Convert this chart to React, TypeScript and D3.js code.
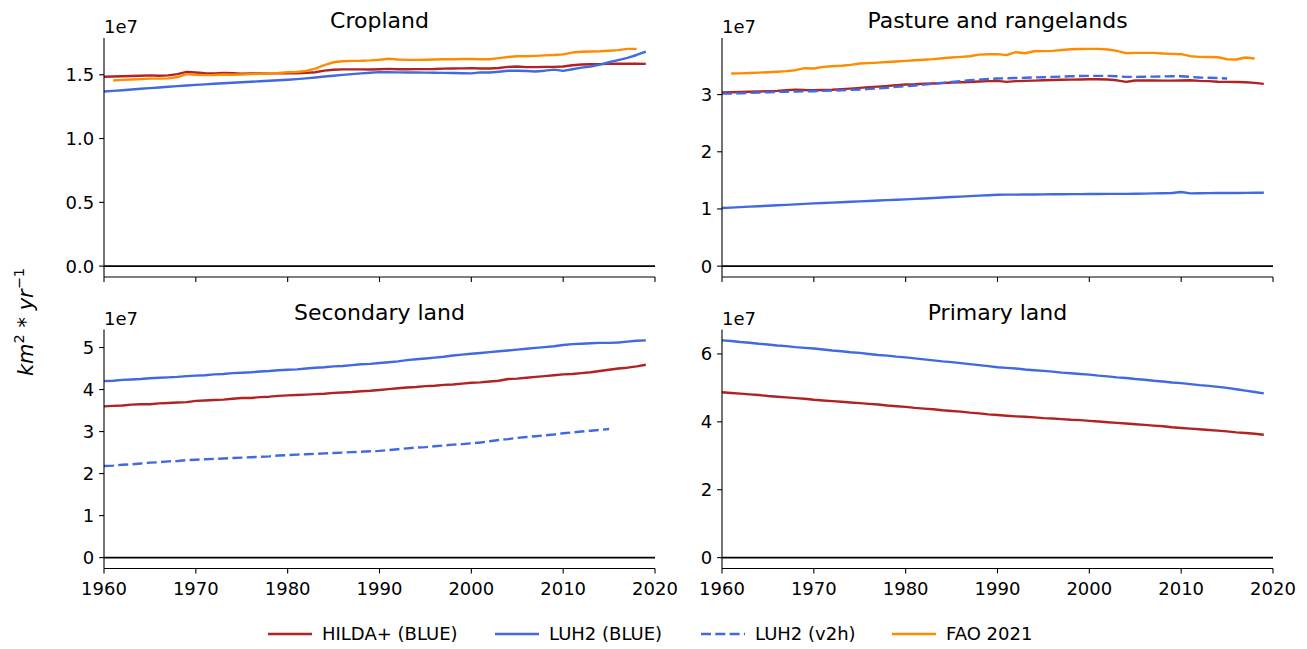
import React from "react";
import * as d3 from "d3";

// ---------- DATA (values in units of 1e7 km² yr⁻¹) ----------
const YEARS = d3.range(1960, 2020); // 1960..2019
const YEARS_V2H = d3.range(1960, 2016); // 1960..2015
const YEARS_FAO = d3.range(1961, 2019); // 1961..2018

const X_TICKS = [1960, 1970, 1980, 1990, 2000, 2010, 2020];

// Cropland
const cropHilda = [
  1.484, 1.486, 1.488, 1.49, 1.492, 1.495, 1.492, 1.495, 1.505, 1.522,
  1.518, 1.512, 1.51, 1.515, 1.512, 1.508, 1.51, 1.51, 1.511, 1.512,
  1.513, 1.512, 1.515, 1.52, 1.532, 1.539, 1.542, 1.542, 1.542, 1.541,
  1.543, 1.546, 1.543, 1.543, 1.544, 1.544, 1.545, 1.548, 1.549, 1.55,
  1.552, 1.549, 1.549, 1.553, 1.562, 1.565, 1.56, 1.56, 1.562, 1.562,
  1.565, 1.575, 1.58, 1.582, 1.583, 1.585, 1.586, 1.586, 1.586, 1.585,
];
const cropLuh2 = [
  1.369, 1.374, 1.379, 1.384, 1.39, 1.395, 1.4, 1.406, 1.411, 1.416,
  1.421, 1.425, 1.429, 1.433, 1.437, 1.441, 1.445, 1.449, 1.453, 1.457,
  1.461, 1.466, 1.472, 1.479, 1.486, 1.492, 1.499, 1.505, 1.511, 1.516,
  1.521, 1.52, 1.519, 1.518, 1.518, 1.517, 1.516, 1.515, 1.514, 1.512,
  1.511, 1.519, 1.518, 1.524, 1.531, 1.531, 1.53, 1.526, 1.532, 1.54,
  1.53, 1.543, 1.556, 1.565, 1.58, 1.598, 1.615, 1.632, 1.655, 1.681,
];
const cropFao = [
  1.455, 1.46, 1.463, 1.466, 1.47, 1.47, 1.472, 1.482, 1.505,
  1.5, 1.497, 1.498, 1.502, 1.5, 1.502, 1.505, 1.508, 1.512, 1.515,
  1.52, 1.522, 1.53, 1.548, 1.575, 1.598, 1.606, 1.609, 1.61, 1.613,
  1.618, 1.625, 1.62, 1.617, 1.617, 1.618, 1.62, 1.622, 1.622, 1.624,
  1.624, 1.622, 1.622, 1.63, 1.639, 1.645, 1.645, 1.648, 1.652, 1.655,
  1.66, 1.674, 1.68, 1.682, 1.684, 1.688, 1.693, 1.703, 1.703,
];

// Pasture and rangelands
const pastHilda = [
  3.036, 3.04, 3.045, 3.05, 3.055, 3.059, 3.065, 3.075, 3.088, 3.08,
  3.076, 3.08, 3.085, 3.095, 3.105, 3.117, 3.13, 3.14, 3.15, 3.165,
  3.176, 3.18, 3.19, 3.195, 3.2, 3.211, 3.215, 3.22, 3.228, 3.235,
  3.24, 3.222, 3.235, 3.24, 3.245, 3.252, 3.255, 3.26, 3.262, 3.265,
  3.269, 3.268, 3.263, 3.25, 3.222, 3.246, 3.248, 3.246, 3.244, 3.245,
  3.246, 3.25, 3.24, 3.235, 3.225, 3.222, 3.22, 3.217, 3.205, 3.187,
];
const pastLuh2 = [
  1.016, 1.024, 1.032, 1.04, 1.048, 1.056, 1.064, 1.072, 1.08, 1.089,
  1.097, 1.104, 1.111, 1.118, 1.125, 1.132, 1.139, 1.147, 1.154, 1.161,
  1.168, 1.176, 1.184, 1.192, 1.2, 1.208, 1.216, 1.225, 1.233, 1.241,
  1.249, 1.25, 1.251, 1.252, 1.254, 1.255, 1.256, 1.257, 1.259, 1.26,
  1.261, 1.262, 1.263, 1.263, 1.264, 1.267, 1.269, 1.272, 1.275, 1.278,
  1.296, 1.273, 1.275, 1.277, 1.278, 1.279, 1.28, 1.281, 1.283, 1.284,
];
const pastV2h = [
  3.018, 3.02, 3.025, 3.03, 3.036, 3.042, 3.046, 3.05, 3.054, 3.057,
  3.059, 3.065, 3.07, 3.075, 3.082, 3.088, 3.1, 3.11, 3.12, 3.135,
  3.147, 3.16, 3.175, 3.19, 3.205, 3.222, 3.235, 3.25, 3.262, 3.272,
  3.281, 3.285, 3.29, 3.295, 3.3, 3.304, 3.31, 3.315, 3.32, 3.325,
  3.327, 3.328, 3.327, 3.32, 3.31, 3.31, 3.312, 3.315, 3.318, 3.32,
  3.322, 3.31, 3.298, 3.295, 3.29, 3.281,
];
const pastFao = [
  3.368, 3.372, 3.378, 3.385, 3.392, 3.4, 3.41, 3.427, 3.462,
  3.456, 3.485, 3.495, 3.505, 3.52, 3.543, 3.55, 3.56, 3.57, 3.58,
  3.59, 3.6, 3.61, 3.62, 3.635, 3.649, 3.66, 3.67, 3.7, 3.705,
  3.707, 3.69, 3.742, 3.724, 3.759, 3.76, 3.765, 3.78, 3.794, 3.797,
  3.8, 3.8, 3.789, 3.765, 3.724, 3.73, 3.73, 3.73, 3.718, 3.712,
  3.707, 3.672, 3.66, 3.657, 3.654, 3.619, 3.614, 3.649, 3.631,
];

// Secondary land
const secHilda = [
  3.6, 3.61, 3.62, 3.64, 3.65, 3.65, 3.67, 3.68, 3.69, 3.7,
  3.73, 3.74, 3.75, 3.76, 3.78, 3.8, 3.8, 3.82, 3.83, 3.85,
  3.86, 3.87, 3.88, 3.89, 3.9, 3.92, 3.93, 3.94, 3.96, 3.97,
  3.99, 4.01, 4.03, 4.05, 4.06, 4.08, 4.09, 4.11, 4.12, 4.14,
  4.16, 4.17, 4.19, 4.21, 4.25, 4.26, 4.28, 4.3, 4.32, 4.34,
  4.36, 4.37, 4.39, 4.41, 4.44, 4.47, 4.5, 4.52, 4.55, 4.59,
];
const secLuh2 = [
  4.2, 4.21, 4.23, 4.24, 4.25, 4.27, 4.28, 4.29, 4.3, 4.32,
  4.33, 4.34, 4.36, 4.37, 4.39, 4.4, 4.41, 4.43, 4.44, 4.46,
  4.47, 4.48, 4.5, 4.52, 4.53, 4.55, 4.56, 4.58, 4.6, 4.61,
  4.63, 4.65, 4.67, 4.7, 4.72, 4.74, 4.76, 4.78, 4.81, 4.83,
  4.85, 4.87, 4.89, 4.91, 4.93, 4.95, 4.97, 4.99, 5.01, 5.03,
  5.06, 5.08, 5.09, 5.1, 5.11, 5.11, 5.12, 5.14, 5.16, 5.17,
];
const secV2h = [
  2.18, 2.19, 2.21, 2.22, 2.24, 2.26, 2.27, 2.29, 2.3, 2.32,
  2.33, 2.34, 2.35, 2.36, 2.37, 2.38, 2.39, 2.4, 2.41, 2.43,
  2.44, 2.45, 2.46, 2.47, 2.48, 2.49, 2.5, 2.51, 2.52, 2.53,
  2.54, 2.56, 2.58, 2.6, 2.62, 2.63, 2.65, 2.67, 2.69, 2.7,
  2.72, 2.74, 2.77, 2.8, 2.82, 2.85, 2.87, 2.89, 2.91, 2.93,
  2.96, 2.98, 3.0, 3.02, 3.04, 3.06,
];

// Primary land
const primHilda = [
  4.87, 4.85, 4.83, 4.81, 4.79, 4.76, 4.74, 4.72, 4.7, 4.68,
  4.65, 4.63, 4.61, 4.59, 4.57, 4.55, 4.53, 4.51, 4.48, 4.46,
  4.44, 4.41, 4.39, 4.37, 4.34, 4.32, 4.3, 4.27, 4.25, 4.22,
  4.2, 4.18, 4.16, 4.15, 4.13, 4.11, 4.1, 4.08, 4.06, 4.05,
  4.03, 4.01, 3.99, 3.97, 3.95, 3.93, 3.91, 3.89, 3.87, 3.84,
  3.82, 3.8, 3.78, 3.76, 3.74, 3.72, 3.69, 3.67, 3.65, 3.62,
];
const primLuh2 = [
  6.4, 6.38, 6.35, 6.33, 6.3, 6.28, 6.25, 6.23, 6.2, 6.18,
  6.16, 6.13, 6.1, 6.08, 6.05, 6.03, 6.0, 5.97, 5.95, 5.92,
  5.9, 5.87, 5.84, 5.81, 5.78, 5.76, 5.73, 5.7, 5.67, 5.64,
  5.61, 5.59, 5.57, 5.54, 5.52, 5.5, 5.48, 5.45, 5.43, 5.41,
  5.39, 5.36, 5.34, 5.31, 5.29, 5.26, 5.24, 5.21, 5.19, 5.16,
  5.14, 5.11, 5.08, 5.06, 5.03, 5.0, 4.96, 4.92, 4.88, 4.84,
];

const PANEL_TITLES = ["Cropland", "Pasture and rangelands", "Secondary land", "Primary land"];
const Y_TICKS = [
  [0, 0.5, 1.0, 1.5],
  [0, 1, 2, 3],
  [0, 1, 2, 3, 4, 5],
  [0, 2, 4, 6],
];
const Y_TICK_FORMATS = [".1f", "d", "d", "d"];

const LEGEND_LABELS = ["HILDA+ (BLUE)", "LUH2 (BLUE)", "LUH2 (v2h)", "FAO 2021"];

// ---------- STYLE ----------
const COLORS = {
  hilda: "#b22222",
  luh2: "#4169e1",
  v2h: "#4169e1",
  fao: "#ff8c00",
};
const FONT = "DejaVu Sans, Verdana, sans-serif";

type Series = { key: keyof typeof COLORS; years: number[]; values: number[]; dashed?: boolean };

const PANEL_SERIES: Series[][] = [
  [
    { key: "hilda", years: YEARS, values: cropHilda },
    { key: "luh2", years: YEARS, values: cropLuh2 },
    { key: "fao", years: YEARS_FAO, values: cropFao },
  ],
  [
    { key: "hilda", years: YEARS, values: pastHilda },
    { key: "luh2", years: YEARS, values: pastLuh2 },
    { key: "v2h", years: YEARS_V2H, values: pastV2h, dashed: true },
    { key: "fao", years: YEARS_FAO, values: pastFao },
  ],
  [
    { key: "hilda", years: YEARS, values: secHilda },
    { key: "luh2", years: YEARS, values: secLuh2 },
    { key: "v2h", years: YEARS_V2H, values: secV2h, dashed: true },
  ],
  [
    { key: "hilda", years: YEARS, values: primHilda },
    { key: "luh2", years: YEARS, values: primLuh2 },
  ],
];

const PANEL_BOXES = [
  { x0: 104, x1: 655, y0: 38, y1: 277 },
  { x0: 722, x1: 1273, y0: 38, y1: 277 },
  { x0: 104, x1: 655, y0: 329.5, y1: 568.5 },
  { x0: 722, x1: 1273, y0: 329.5, y1: 568.5 },
];

const DASH = "10,4.3";
const LW = 2.4;
const TICK_FS = 18;
const TITLE_FS = 22;

function Panel({ idx }: { idx: number }) {
  const box = PANEL_BOXES[idx];
  const series = PANEL_SERIES[idx];
  const maxV = d3.max(series.flatMap((s) => s.values)) as number;
  const x = d3.scaleLinear().domain([1960, 2020]).range([box.x0, box.x1]);
  const y = d3.scaleLinear().domain([-0.05 * maxV, 1.05 * maxV]).range([box.y1, box.y0]);
  const bottomRow = idx >= 2;
  const fmt = d3.format(Y_TICK_FORMATS[idx]);
  const tickLen = 4.9;

  return (
    <g>
      <defs>
        <clipPath id={`clip${idx}`}>
          <rect x={box.x0} y={box.y0 - 3} width={box.x1 - box.x0} height={box.y1 - box.y0 + 3} />
        </clipPath>
      </defs>
      <text
        x={(box.x0 + box.x1) / 2}
        y={box.y0 - 10}
        textAnchor="middle"
        fontSize={TITLE_FS}
        fontFamily={FONT}
        fill="#000"
      >
        {PANEL_TITLES[idx]}
      </text>
      <text x={box.x0} y={box.y0 - 5} fontSize={TICK_FS} fontFamily={FONT} fill="#000">
        1e7
      </text>
      <line x1={box.x0} x2={box.x1} y1={y(0)} y2={y(0)} stroke="#000" strokeWidth={1.7} />
      <g clipPath={`url(#clip${idx})`}>
        {series.map((s, i) => {
          const pts: [number, number][] = s.years.map((yr, j) => [yr, s.values[j]]);
          const line = d3
            .line<[number, number]>()
            .x((d) => x(d[0]))
            .y((d) => y(d[1]));
          return (
            <path
              key={i}
              d={line(pts) || ""}
              fill="none"
              stroke={COLORS[s.key]}
              strokeWidth={LW}
              strokeDasharray={s.dashed ? DASH : undefined}
              strokeLinejoin="round"
            />
          );
        })}
      </g>
      <line x1={box.x0} x2={box.x0} y1={box.y0} y2={box.y1} stroke="#000" strokeWidth={1.1} />
      <line x1={box.x0} x2={box.x1} y1={box.y1} y2={box.y1} stroke="#000" strokeWidth={1.1} />
      {Y_TICKS[idx].map((t) => (
        <g key={`y${t}`}>
          <line x1={box.x0 - tickLen} x2={box.x0} y1={y(t)} y2={y(t)} stroke="#000" strokeWidth={1.1} />
          <text
            x={box.x0 - tickLen - 5}
            y={y(t)}
            dy="0.36em"
            textAnchor="end"
            fontSize={TICK_FS}
            fontFamily={FONT}
            fill="#000"
          >
            {fmt(t)}
          </text>
        </g>
      ))}
      {X_TICKS.map((t) => (
        <g key={`x${t}`}>
          <line x1={x(t)} x2={x(t)} y1={box.y1} y2={box.y1 + tickLen} stroke="#000" strokeWidth={1.1} />
          {bottomRow && (
            <text
              x={x(t)}
              y={box.y1 + tickLen + 5}
              dy="0.92em"
              textAnchor="middle"
              fontSize={TICK_FS}
              fontFamily={FONT}
              fill="#000"
            >
              {t}
            </text>
          )}
        </g>
      ))}
    </g>
  );
}

function Legend() {
  const items = [
    { key: "hilda" as const, x: 268, dashed: false },
    { key: "luh2" as const, x: 495, dashed: false },
    { key: "v2h" as const, x: 701, dashed: true },
    { key: "fao" as const, x: 892, dashed: false },
  ];
  const yc = 634;
  return (
    <g>
      {items.map((it, i) => (
        <g key={i}>
          <line
            x1={it.x}
            x2={it.x + 44}
            y1={yc}
            y2={yc}
            stroke={COLORS[it.key]}
            strokeWidth={LW}
            strokeDasharray={it.dashed ? DASH : undefined}
          />
          <text x={it.x + 54} y={yc} dy="0.36em" fontSize={TICK_FS} fontFamily={FONT} fill="#000">
            {LEGEND_LABELS[i]}
          </text>
        </g>
      ))}
    </g>
  );
}

export default function App() {
  return (
    <svg
      width={1307}
      height={649}
      style={{ position: "absolute", left: 0, top: 0, background: "#fff" }}
    >
      <rect x={0} y={0} width={1307} height={649} fill="#fff" />
      {[0, 1, 2, 3].map((i) => (
        <Panel key={i} idx={i} />
      ))}
      <text
        transform="translate(33,322) rotate(-90)"
        textAnchor="middle"
        fontSize={21}
        fontFamily={FONT}
        fill="#000"
      >
        <tspan fontStyle="italic">km</tspan>
        <tspan fontSize={14.5} dy={-9}>2</tspan>
        <tspan dy={9}> * </tspan>
        <tspan fontStyle="italic">yr</tspan>
        <tspan fontSize={14.5} dy={-9}>−1</tspan>
      </text>
      <Legend />
    </svg>
  );
}
